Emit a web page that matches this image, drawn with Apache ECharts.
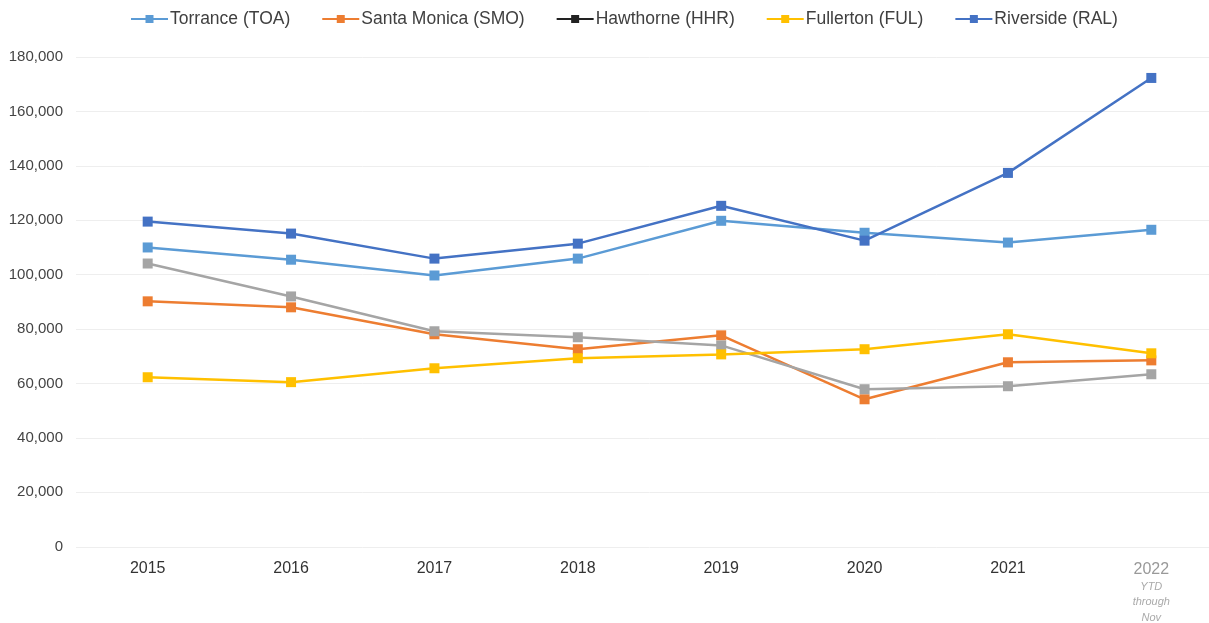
<!DOCTYPE html>
<html>
<head>
<meta charset="utf-8">
<script src="https://cdn.jsdelivr.net/npm/echarts@6/dist/echarts.min.js"></script>
<style>
  html, body { margin: 0; padding: 0; background: #fff; overflow: hidden; }
  #chart { width: 1223px; height: 623px; }
</style>
</head>
<body>
<div id="chart"></div>
<script>
// 年份
var years = ['2015', '2016', '2017', '2018', '2019', '2020', '2021', '2022'];
// 各机场数据
var torrance = [110000, 105500, 99700, 105900, 119800, 115400, 111800, 116500];
var santaMonica = [90200, 88000, 78100, 72600, 77700, 54200, 67800, 68500];
var hawthorne = [104100, 92000, 79200, 77000, 74000, 57900, 59000, 63400];
var fullerton = [62300, 60500, 65600, 69300, 70700, 72600, 78100, 71100];
var riverside = [119500, 115100, 105900, 111400, 125300, 112500, 137400, 172300];

var chart = echarts.init(document.getElementById('chart'));

function line(name, data, color) {
  return {
    name: name,
    type: 'line',
    data: data,
    symbol: 'rect',
    symbolSize: 10,
    lineStyle: { width: 2.5, color: color },
    itemStyle: { color: color },
    z: 2
  };
}

chart.setOption({
  animation: false,
  textStyle: { fontFamily: 'Liberation Sans, Arial, sans-serif' },
  legend: {
    top: 5,
    left: 125,
    itemWidth: 37,
    itemHeight: 10,
    itemGap: 31,
    textStyle: { fontSize: 17.5, color: '#404040', padding: [0, 0, 0, -3] },
    data: [
      { name: 'Torrance (TOA)' },
      { name: 'Santa Monica (SMO)' },
      { name: 'Hawthorne (HHR)', itemStyle: { color: '#222' }, lineStyle: { color: '#222' } },
      { name: 'Fullerton (FUL)' },
      { name: 'Riverside (RAL)' }
    ]
  },
  grid: { left: 76, right: 0, top: 57, bottom: 74 },
  xAxis: {
    type: 'category',
    data: years,
    boundaryGap: true,
    axisLine: { show: false },
    axisTick: { show: false },
    axisLabel: {
      margin: 14,
      fontSize: 16,
      color: '#333',
      formatter: function (v) {
        if (v === '2022') return '{y|2022}\n{s|YTD}\n{s|through}\n{s|Nov}';
        return v;
      },
      rich: {
        y: { fontSize: 16, color: '#999', lineHeight: 18 },
        s: { fontSize: 11, color: '#aaa', fontStyle: 'italic', lineHeight: 15.5 }
      }
    }
  },
  yAxis: {
    type: 'value',
    min: 0,
    max: 180000,
    interval: 20000,
    axisLine: { show: false },
    axisTick: { show: false },
    axisLabel: {
      margin: 13,
      fontSize: 15,
      color: '#444',
      formatter: function (v) { return v.toLocaleString('en-US'); }
    },
    splitLine: { lineStyle: { color: '#eeeeee', width: 1 } }
  },
  series: [
    line('Torrance (TOA)', torrance, '#5B9BD5'),
    line('Santa Monica (SMO)', santaMonica, '#ED7D31'),
    line('Hawthorne (HHR)', hawthorne, '#A5A5A5'),
    line('Fullerton (FUL)', fullerton, '#FFC000'),
    line('Riverside (RAL)', riverside, '#4472C4')
  ]
});
</script>
</body>
</html>
